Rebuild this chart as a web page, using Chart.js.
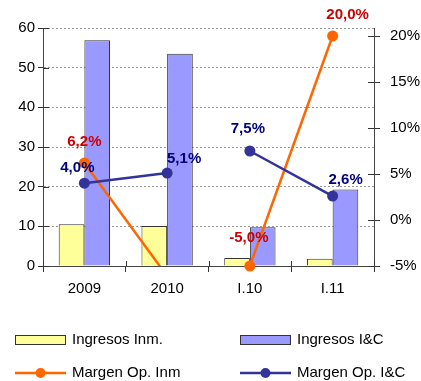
<!DOCTYPE html>
<html>
<head>
<meta charset="utf-8">
<script src="https://cdn.jsdelivr.net/npm/chart.js@4/dist/chart.umd.min.js"></script>
<style>
  html, body { margin: 0; padding: 0; background: #fff; overflow: hidden; }
  #wrap { width: 421px; height: 381px; }
</style>
</head>
<body>
<div id="wrap"><canvas id="chart" width="421" height="381"></canvas></div>
<script>
const categories = ["2009", "2010", "I.10", "I.11"];
const ingresosInm = [10.5, 10.1, 2.0, 1.8];
const ingresosIC = [56.9, 53.5, 9.8, 19.3];
const margenInm = [6.2, -6.1, -5.0, 20.0];
const margenIC = [4.0, 5.1, 7.5, 2.6];
const rightTicks = [-5, 0, 5, 10, 15, 20];

const RIGHT_MIN = -5;
const RIGHT_MAX = 20.87;

const FONT = "'Liberation Sans', Arial, sans-serif";
Chart.defaults.font.family = FONT;
Chart.defaults.font.size = 15;
Chart.defaults.color = "#000";

// where each value label sits relative to its point (px)
const labelOffsets = {
  inm: [[0, -21], null, [-1, -28], [15, -21]],
  ic: [[-7, -15], [17, -14], [-2, -22], [13, -16]],
};

const fmtPct = v => v.toFixed(1).replace(".", ",") + "%";

// annual points and quarterly points are not joined
const breakYearQuarter = {
  borderColor: c => (c.p0DataIndex === 1 ? "rgba(0,0,0,0)" : undefined),
};

const valueLabels = {
  id: "valueLabels",
  afterDatasetsDraw(chart) {
    const ctx = chart.ctx;
    ctx.save();
    ctx.font = "bold 15px " + FONT;
    ctx.textAlign = "center";
    ctx.textBaseline = "middle";
    chart.data.datasets.forEach((ds, i) => {
      if (!ds.labelKey) return;
      const meta = chart.getDatasetMeta(i);
      const offs = labelOffsets[ds.labelKey];
      meta.data.forEach((pt, j) => {
        const v = ds.data[j];
        if (v == null || v < RIGHT_MIN || !offs[j]) return;
        ctx.fillStyle = ds.labelColor;
        ctx.fillText(fmtPct(v), pt.x + offs[j][0], pt.y + offs[j][1]);
      });
    });
    ctx.restore();
  }
};

const crossTicks = {
  id: "crossTicks",
  afterDraw(chart) {
    const { ctx, chartArea: a, scales } = chart;
    ctx.save();
    ctx.strokeStyle = "#333";
    ctx.lineWidth = 1;
    ctx.beginPath();
    scales.y.ticks.forEach(t => {
      const y = Math.round(scales.y.getPixelForValue(t.value)) + 0.5;
      ctx.moveTo(a.left, y); ctx.lineTo(a.left + 6, y);
    });
    scales.y1.ticks.forEach(t => {
      const y = Math.round(scales.y1.getPixelForValue(t.value)) + 0.5;
      ctx.moveTo(a.right - 6, y); ctx.lineTo(a.right, y);
    });
    for (let k = 0; k <= categories.length; k++) {
      const x = Math.round(a.left + (a.right - a.left) * k / categories.length) + 0.5;
      ctx.moveTo(x, a.bottom - 5); ctx.lineTo(x, a.bottom);
    }
    ctx.stroke();
    ctx.restore();
  }
};

const bottomLegend = {
  id: "bottomLegend",
  afterDraw(chart) {
    const ctx = chart.ctx;
    const items = chart.data.datasets.filter(d => d.legendPos != null)
      .sort((p, q) => p.legendPos - q.legendPos);
    const cols = [15, 240];
    const rows = [340, 373];
    ctx.save();
    ctx.font = "15px " + FONT;
    ctx.textBaseline = "middle";
    ctx.textAlign = "left";
    items.forEach((d, i) => {
      const x = cols[i % 2], y = rows[Math.floor(i / 2)];
      if (d.type === "bar") {
        ctx.fillStyle = d.backgroundColor;
        ctx.fillRect(x, y - 5, 51, 10);
        ctx.strokeStyle = "#333";
        ctx.lineWidth = 1;
        ctx.strokeRect(x + 0.5, y - 4.5, 50, 9);
      } else {
        ctx.strokeStyle = d.borderColor;
        ctx.lineWidth = 2.5;
        ctx.beginPath(); ctx.moveTo(x, y); ctx.lineTo(x + 51, y); ctx.stroke();
        ctx.fillStyle = d.borderColor;
        ctx.beginPath(); ctx.arc(x + 25.5, y, 5, 0, Math.PI * 2); ctx.fill();
      }
      ctx.fillStyle = "#000";
      ctx.fillText(d.label, x + 57, y);
    });
    ctx.restore();
  }
};

new Chart(document.getElementById("chart"), {
  data: {
    labels: categories,
    datasets: [
      {
        type: "line", label: "Margen Op. I&C", legendPos: 3, labelKey: "ic", labelColor: "#000080",
        data: margenIC, yAxisID: "y1", order: 0,
        borderColor: "#333399", backgroundColor: "#333399", borderWidth: 2.5,
        pointRadius: 5.5, pointHoverRadius: 5.5, pointBorderWidth: 0, clip: false,
        segment: breakYearQuarter,
      },
      {
        type: "line", label: "Margen Op. Inm (puntos)",
        data: margenInm.map(v => (v < RIGHT_MIN ? null : v)), yAxisID: "y1", order: 1,
        showLine: false, borderColor: "#FF6600", backgroundColor: "#FF6600",
        pointRadius: 5.5, pointHoverRadius: 5.5, pointBorderWidth: 0, clip: false,
      },
      {
        type: "line", label: "Margen Op. Inm", legendPos: 2, labelKey: "inm", labelColor: "#CC0000",
        data: margenInm, yAxisID: "y1", order: 2,
        borderColor: "#FF6600", backgroundColor: "#FF6600", borderWidth: 2.5,
        pointRadius: 0, clip: { left: false, right: false, top: false, bottom: 0 },
        segment: breakYearQuarter,
      },
      {
        type: "bar", label: "Ingresos Inm.", legendPos: 0, data: ingresosInm, yAxisID: "y", order: 3,
        backgroundColor: "#FFFF99", borderColor: "#333", borderWidth: 1,
        categoryPercentage: 0.62, barPercentage: 1,
      },
      {
        type: "bar", label: "Ingresos I&C", legendPos: 1, data: ingresosIC, yAxisID: "y", order: 3,
        backgroundColor: "#9999FF", borderColor: "#333", borderWidth: 1,
        categoryPercentage: 0.62, barPercentage: 1,
      },
    ],
  },
  options: {
    responsive: false,
    animation: false,
    layout: { padding: { top: 28, left: 0, right: 0, bottom: 0 } },
    plugins: {
      legend: { display: false },
      tooltip: { enabled: false },
    },
    scales: {
      x: {
        offset: true,
        grid: { offset: true, drawOnChartArea: false, tickLength: 6, color: "#333", tickColor: "#333" },
        border: { color: "#444", width: 1 },
        ticks: { padding: 8, color: "#000" },
        afterFit: s => { s.height = 115; },
      },
      y: {
        position: "left",
        min: 0, max: 60,
        ticks: { stepSize: 10, padding: 3, color: "#000" },
        grid: { color: "#999", tickColor: "#333", tickLength: 5, tickBorderDash: [] },
        border: { color: "#444", width: 1, dash: [2, 2] },
        afterFit: s => { s.width = 43; },
      },
      y1: {
        position: "right",
        min: RIGHT_MIN, max: RIGHT_MAX,
        afterBuildTicks: s => { s.ticks = rightTicks.map(v => ({ value: v })); },
        ticks: { padding: 10, color: "#000", callback: v => v + "%" },
        grid: { drawOnChartArea: false, tickColor: "#333", tickLength: 6 },
        border: { color: "#444", width: 1 },
        afterFit: s => { s.width = 47; },
      },
    },
  },
  plugins: [valueLabels, crossTicks, bottomLegend],
});
</script>
</body>
</html>
